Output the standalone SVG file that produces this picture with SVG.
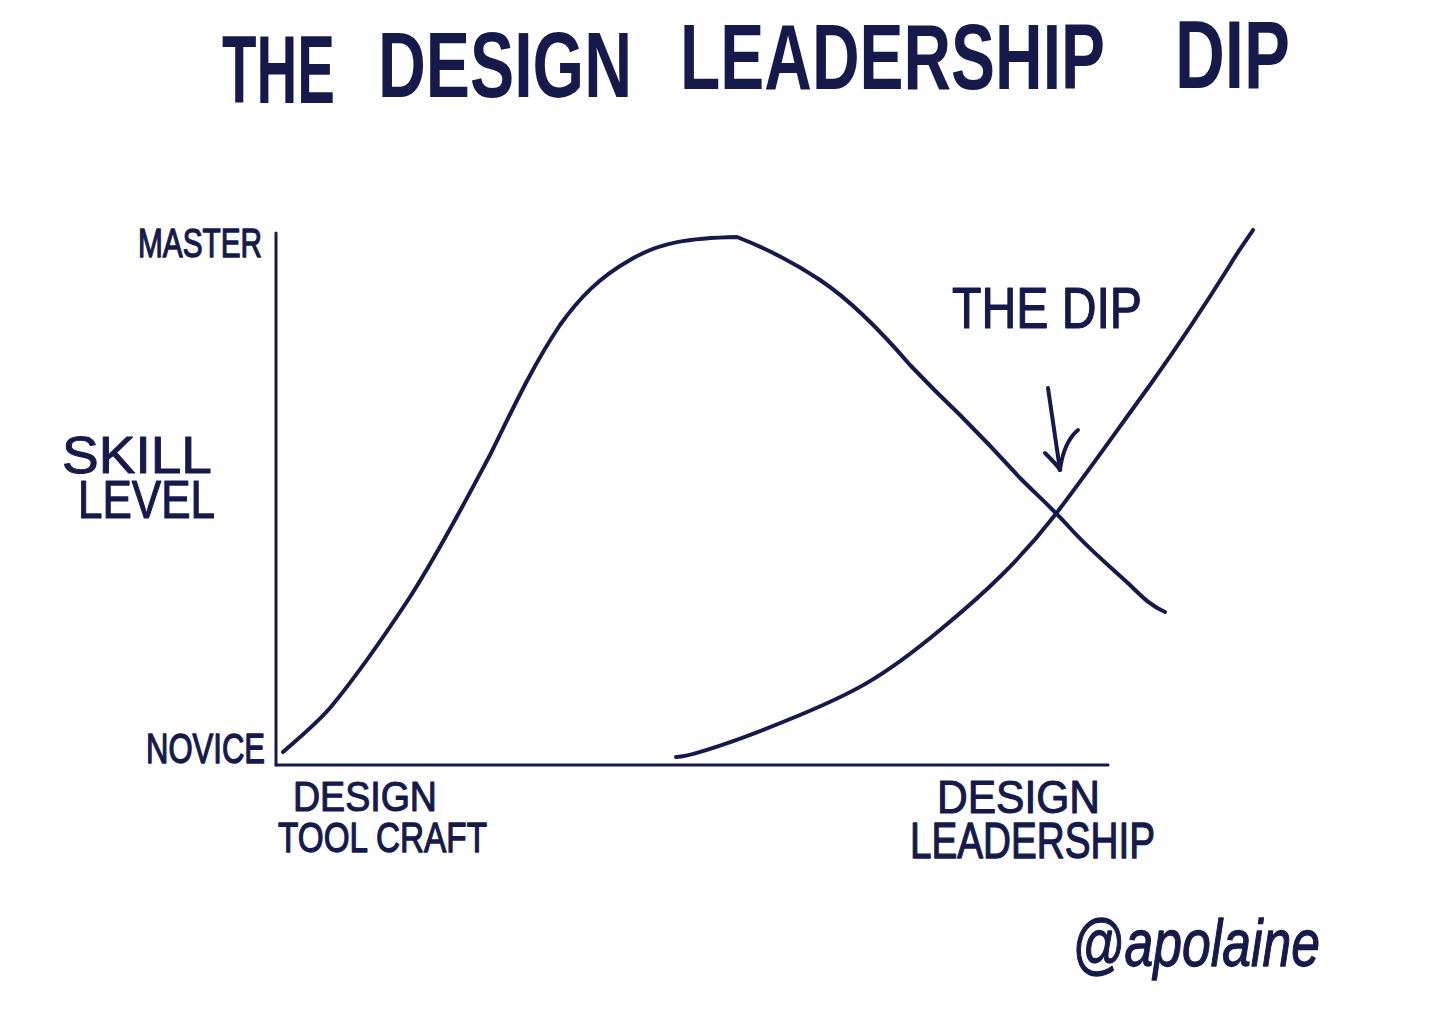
<svg xmlns="http://www.w3.org/2000/svg" width="1456" height="1030" viewBox="0 0 1456 1030">
<style>
.ink{fill:none;stroke:#161a4a;stroke-linecap:round;stroke-linejoin:round}
.t{fill:#161a4a;font-family:"Liberation Sans","DejaVu Sans",sans-serif}
.h{font-weight:bold;font-size:64px}
.l{stroke:#161a4a;stroke-width:1;stroke-linejoin:round}
</style>
<rect width="1456" height="1030" fill="#ffffff"/>
<g id="title">
<text class="t h" transform="translate(222,103) scale(1,1.5)" textLength="113" lengthAdjust="spacingAndGlyphs">THE</text>
<text class="t h" transform="translate(378,97) scale(1,1.45)" textLength="254" lengthAdjust="spacingAndGlyphs">DESIGN</text>
<text class="t h" transform="translate(680,89) scale(1,1.45)" textLength="425" lengthAdjust="spacingAndGlyphs">LEADERSHIP</text>
<text class="t h" transform="translate(1175,88) scale(1,1.5)" textLength="115" lengthAdjust="spacingAndGlyphs">DIP</text>
</g>
<g id="axes">
<line class="ink" x1="276" y1="233" x2="276" y2="765" stroke-width="3"/>
<line class="ink" x1="276" y1="765" x2="1108" y2="765" stroke-width="3"/>
</g>
<g id="y-labels">
<text class="t l" font-size="30" transform="translate(138,257) scale(1,1.35)" textLength="124" lengthAdjust="spacingAndGlyphs">MASTER</text>
<text class="t l" font-size="52" transform="translate(62,473)" textLength="150" lengthAdjust="spacingAndGlyphs">SKILL</text>
<text class="t l" font-size="44" transform="translate(78,518) scale(1,1.2)" textLength="137" lengthAdjust="spacingAndGlyphs">LEVEL</text>
<text class="t l" font-size="31" transform="translate(146,763) scale(1,1.4)" textLength="119" lengthAdjust="spacingAndGlyphs">NOVICE</text>
</g>
<g id="x-labels">
<text class="t l" font-size="37" transform="translate(293,811) scale(1,1.15)" textLength="144" lengthAdjust="spacingAndGlyphs">DESIGN</text>
<text class="t l" font-size="33" transform="translate(278,852) scale(1,1.3)" textLength="209" lengthAdjust="spacingAndGlyphs">TOOL CRAFT</text>
<text class="t l" font-size="42" transform="translate(937,813) scale(1,1.1)" textLength="163" lengthAdjust="spacingAndGlyphs">DESIGN</text>
<text class="t l" font-size="39" transform="translate(910,858) scale(1,1.3)" textLength="245" lengthAdjust="spacingAndGlyphs">LEADERSHIP</text>
</g>
<g id="connectors">
<path id="tool-craft-curve" class="ink" stroke-width="4" d="M283,752 C300,737 315,725 330,708 C360,672 385,635 410,597 C440,550 465,502 490,455 C510,415 530,370 560,325 C580,297 600,277 630,260 C660,242 690,238 737,237 C760,246 790,260 820,280 C850,300 880,330 910,365 C930,386 940,396 960,415 C985,440 1000,456 1020,478 C1040,498 1050,506 1070,528 C1090,550 1105,562 1130,585 C1145,600 1152,606 1165,612"/>
<path id="leadership-curve" class="ink" stroke-width="4" d="M676,757 C690,757 740,740 800,715 C850,694 880,680 940,630 C985,593 1020,560 1055,515 C1085,476 1115,433 1150,385 C1180,343 1205,305 1230,265 C1240,248 1248,238 1253,230"/>
<g id="dip-arrow">
<path class="ink" stroke-width="4" d="M1048,388 L1060,470"/>
<path class="ink" stroke-width="4" d="M1045,453 C1052,460 1058,466 1060,470 C1062,455 1066,440 1078,430"/>
</g>
</g>
<g id="dip-label">
<text class="t l" font-size="48" transform="translate(952,328) scale(1,1.2)" textLength="190" lengthAdjust="spacingAndGlyphs">THE DIP</text>
</g>
<g id="signature">
<text class="t l" font-size="54" font-style="italic" transform="translate(1072,966) scale(1,1.25)" textLength="248" lengthAdjust="spacingAndGlyphs">@apolaine</text>
</g>
</svg>
